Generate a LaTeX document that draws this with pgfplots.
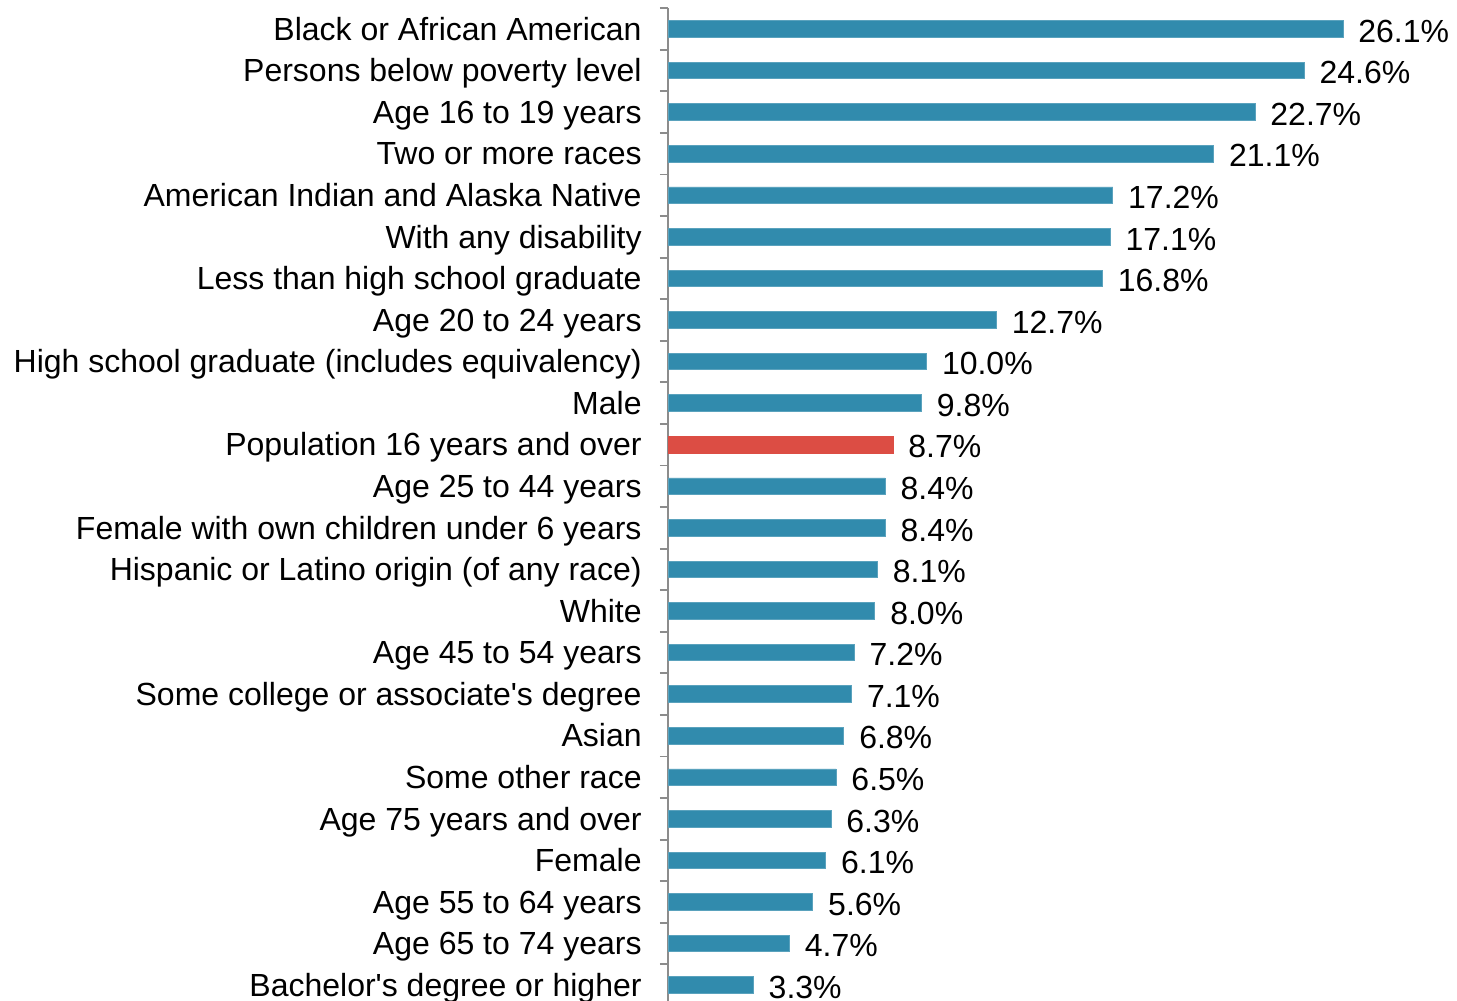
\documentclass[border=0pt]{standalone}
\usepackage{pgfplots}
\pgfplotsset{compat=1.18}
\usepackage{fontspec}
\setmainfont{Liberation Sans}
\definecolor{barblue}{HTML}{318BAD}
\definecolor{barred}{HTML}{DC4D44}
\definecolor{axgray}{HTML}{8C8C8C}
\begin{document}
\begin{tikzpicture}
\begin{axis}[
  at={(334pt,-4.1pt)}, anchor=north west,
  scale only axis, width=387.9pt, height=498.85pt,
  xbar, bar width=8.3pt, bar shift=0pt,
  xmin=0, xmax=30, ymin=-0.5, ymax=23.5,
  enlargelimits=false, y dir=reverse,
  axis x line=none, axis y line*=left,
  axis line style={axgray, line width=0.9pt},
  ytick={0,...,23},
  minor ytick={-0.5,0.5,...,23.5},
  major tick length=0pt, minor tick length=4pt,
  tick align=outside,
  minor tick style={axgray, line width=0.9pt},
  yticklabels={Black or African American,Persons below poverty level,Age 16 to 19 years,Two or more races,American Indian and Alaska Native,With any disability,Less than high school graduate,Age 20 to 24 years,High school graduate (includes equivalency),Male,Population 16 years and over,Age 25 to 44 years,Female with own children under 6 years,Hispanic or Latino origin (of any race),White,Age 45 to 54 years,Some college or associate\textquotesingle s degree,Asian,Some other race,Age 75 years and over,Female,Age 55 to 64 years,Age 65 to 74 years,Bachelor\textquotesingle s degree or higher},
  yticklabel style={font=\fontsize{16}{19}\selectfont, anchor=east, inner sep=0pt, xshift=-13pt, yshift=-2pt, text height=0.716em, text depth=0pt},
  nodes near coords={\pgfmathprintnumber[fixed,fixed zerofill,precision=1,assume math mode=true]{\pgfplotspointmeta}\%},
  every node near coord/.append style={font=\fontsize{16}{19}\selectfont, anchor=west, inner sep=0pt, xshift=7.5pt, yshift=-3pt, text height=0.716em, text depth=0pt, black},
  clip=false,
]
\addplot[fill=barblue, draw=barblue!80!white, line width=0.4pt] coordinates {
(26.1,0) (24.6,1) (22.7,2) (21.1,3) (17.2,4) (17.1,5) (16.8,6) (12.7,7) (10.0,8) (9.8,9)
(8.4,11) (8.4,12) (8.1,13) (8.0,14) (7.2,15) (7.1,16) (6.8,17) (6.5,18) (6.3,19) (6.1,20) (5.6,21) (4.7,22) (3.3,23)};
\addplot[fill=barred, draw=barred, line width=0.4pt] coordinates {(8.7,10)};
\end{axis}
\pgfresetboundingbox
\path[use as bounding box] (0,0) rectangle (728.5pt,-500.5pt);
\end{tikzpicture}
\end{document}
